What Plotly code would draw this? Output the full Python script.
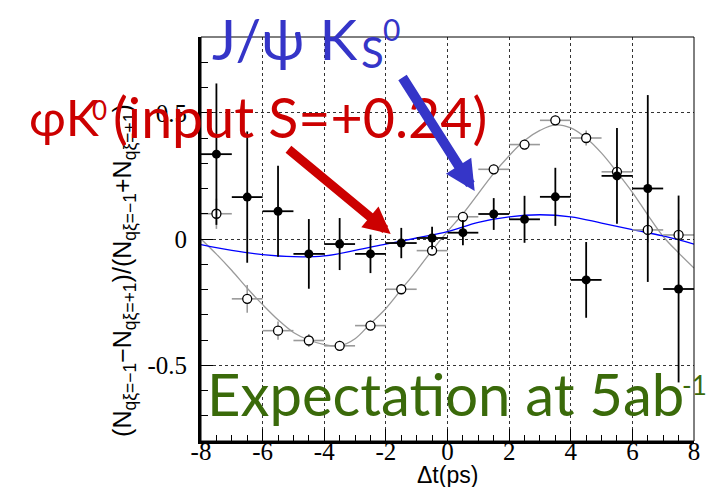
import plotly.graph_objects as go

# Delta-t bin centres (ps) and half bin width
dt_bins = [-7.5, -6.5, -5.5, -4.5, -3.5, -2.5, -1.5, -0.5,
           0.5, 1.5, 2.5, 3.5, 4.5, 5.5, 6.5, 7.5]
bin_half_width = [0.5] * len(dt_bins)

# J/psi K_S asymmetry per bin
jpsiks_asym = [0.10, -0.237, -0.363, -0.402, -0.423, -0.343, -0.199, -0.046,
               0.088, 0.276, 0.374, 0.470, 0.400, 0.266, 0.036, 0.016]
jpsiks_err = [0.060, 0.055, 0.036, 0.026, 0.020, 0.020, 0.020, 0.020,
              0.020, 0.020, 0.020, 0.020, 0.030, 0.035, 0.050, 0.060]

# phi K0 asymmetry per bin
phik0_asym = [0.336, 0.166, 0.110, -0.059, -0.020, -0.059, -0.016, 0.004,
              0.025, 0.099, 0.078, 0.167, -0.162, 0.250, 0.200, -0.198]
phik0_err = [0.280, 0.260, 0.180, 0.138, 0.103, 0.076, 0.060, 0.045,
             0.050, 0.063, 0.093, 0.115, 0.150, 0.190, 0.370, 0.370]

# expected asymmetry curves
jpsiks_curve_dt = [-8, -7.5, -7, -6.5, -6, -5.5, -5, -4.5, -4, -3.5, -3, -2.5,
                   -2, -1.5, -1, -0.5, 0, 0.5, 1, 1.5, 2, 2.5, 3, 3.5, 4, 4.5,
                   5, 5.5, 6, 6.5, 7, 7.5, 8]
jpsiks_curve = [0.0, -0.06, -0.125, -0.195, -0.26, -0.32, -0.37, -0.40, -0.418,
                -0.423, -0.395, -0.335, -0.275, -0.20, -0.125, -0.045, 0.03,
                0.10, 0.18, 0.26, 0.33, 0.39, 0.43, 0.452, 0.44, 0.40, 0.34,
                0.265, 0.185, 0.095, 0.01, -0.055, -0.115]
phik0_curve_dt = [-8, -7, -6, -5, -4, -3, -2, -1, 0, 1, 2, 3, 4, 5, 6, 7, 8]
phik0_curve = [-0.022, -0.045, -0.062, -0.070, -0.067, -0.045, -0.020, 0.004,
               0.029, 0.066, 0.088, 0.096, 0.088, 0.063, 0.037, 0.012, -0.020]

x_tick_vals = [-8, -6, -4, -2, 0, 2, 4, 6, 8]
x_tick_labels = ["-8", "-6", "-4", "-2", "0", "2", "4", "6", "8"]
y_tick_vals = [-0.5, 0, 0.5]
y_tick_labels = ["-0.5", "0", "0.5"]

W, H = 709, 487
ML, MR, MT, MB = 201, 9, 37, 46


def px_x(px):
    return (px - ML) / (W - ML - MR)


def px_y(py):
    return (H - MB - py) / (H - MT - MB)


def ax_x(px):
    return -8 + px_x(px) * 16


def ax_y(py):
    return -0.8 + px_y(py) * 1.6


fig = go.Figure()

fig.add_trace(go.Scatter(x=jpsiks_curve_dt, y=jpsiks_curve, mode="lines",
                         line=dict(color="#9a9a9a", width=1.3, shape="spline"),
                         hoverinfo="skip"))
fig.add_trace(go.Scatter(x=phik0_curve_dt, y=phik0_curve, mode="lines",
                         line=dict(color="#0000ff", width=1.3, shape="spline"),
                         hoverinfo="skip"))

fig.add_trace(go.Scatter(
    x=dt_bins, y=jpsiks_asym, mode="markers",
    marker=dict(symbol="circle", size=9, color="white",
                line=dict(color="black", width=1.3)),
    error_y=dict(type="data", array=jpsiks_err, color="#9a9a9a", thickness=1.6, width=0),
    error_x=dict(type="data", array=bin_half_width, color="#9a9a9a", thickness=1.6, width=0),
))
fig.add_trace(go.Scatter(
    x=dt_bins, y=phik0_asym, mode="markers",
    marker=dict(symbol="circle", size=9, color="black"),
    error_y=dict(type="data", array=phik0_err, color="black", thickness=1.8, width=0),
    error_x=dict(type="data", array=bin_half_width, color="black", thickness=1.8, width=0),
))

axis_font = dict(family="Liberation Serif, Times New Roman, serif", size=25, color="black")

fig.update_layout(
    xaxis=dict(
        range=[-8, 8], tickvals=x_tick_vals, ticktext=x_tick_labels,
        ticks="inside", ticklen=12, tickwidth=1, tickcolor="black",
        minor=dict(tick0=-8, dtick=0.5, ticks="inside", ticklen=6,
                   tickcolor="black", showgrid=False),
        showgrid=True, gridcolor="#333333", gridwidth=1, griddash="dot",
        showline=True, linecolor="black", linewidth=2.5, zeroline=False,
        tickfont=axis_font, ticklabelstandoff=-14,
    ),
    yaxis=dict(
        range=[-0.8, 0.8], tickvals=y_tick_vals, ticktext=y_tick_labels,
        ticks="inside", ticklen=12, tickwidth=1, tickcolor="black",
        minor=dict(tick0=0, dtick=0.1, ticks="inside", ticklen=7,
                   tickcolor="black", showgrid=False),
        showgrid=True, gridcolor="#333333", gridwidth=1, griddash="dot",
        showline=True, linecolor="black", linewidth=3, zeroline=False,
        tickfont=axis_font, ticklabelstandoff=6,
    ),
)

# thin frame on top and right
fig.add_shape(type="rect", xref="paper", yref="paper", x0=0, x1=1, y0=0, y1=1,
              line=dict(color="black", width=1), layer="above")

BLUE = "#3535c8"
RED = "#cc0000"
GREEN = "#3a6a0a"
HAND = "Lato"

# (text, left px, centre px, size, colour)
labels = [
    ("J/ψ K", 210, 38, 57, BLUE),
    ("S", 361, 52, 42, BLUE),
    ("0", 383, 29, 30, BLUE),
    ("φK", 25, 117, 50, RED),
    ("0", 89, 110, 26, RED),
    ("(input S=+0.24)", 110, 117, 55.5, RED),
    ("Expectation at 5ab", 205, 393, 58, GREEN),
    ("-1", 686, 385, 26, GREEN),
]

annotations = [
    dict(text="(N<sub>qξ=−1</sub>−N<sub>qξ=+1</sub>)/(N<sub>qξ=−1</sub>+N<sub>qξ=+1</sub>)",
         x=px_x(123), y=px_y(270), textangle=-90, xanchor="center", yanchor="middle",
         font=dict(family="Liberation Sans", size=25, color="black")),
    dict(text="Δt(ps)", x=px_x(451), y=px_y(475), xanchor="center", yanchor="middle",
         font=dict(family="Liberation Sans", size=23, color="black")),
]
for text, lx, cy, size, color in labels:
    annotations.append(dict(text=text, x=px_x(lx), y=px_y(cy),
                            xanchor="left", yanchor="middle",
                            font=dict(family=HAND, size=size, color=color)))

for a in annotations:
    a.update(xref="paper", yref="paper", showarrow=False)

# arrows (tip, tail) in pixel positions converted to axis values
arrows = [
    dict(tip=(393, 234), tail=(288, 148), color=RED, width=9),
    dict(tip=(478, 191), tail=(404, 76), color=BLUE, width=10),
]
for a in arrows:
    annotations.append(dict(
        text="", x=ax_x(a["tip"][0]), y=ax_y(a["tip"][1]),
        ax=ax_x(a["tail"][0]), ay=ax_y(a["tail"][1]),
        xref="x", yref="y", axref="x", ayref="y",
        showarrow=True, arrowhead=2, arrowsize=0.6, arrowwidth=a["width"],
        arrowcolor=a["color"]))

fig.update_layout(
    width=W, height=H, margin=dict(l=ML, r=MR, t=MT, b=MB),
    plot_bgcolor="white", paper_bgcolor="white", showlegend=False,
    annotations=annotations,
)

fig.write_html("out.html")
